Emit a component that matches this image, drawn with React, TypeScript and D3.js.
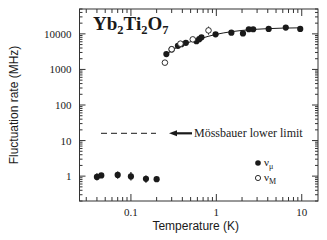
import React from "react";
import * as d3 from "d3";

// nu_mu, muon fluctuation rate (MHz), high-temperature branch
const muHighT = [0.26, 0.3, 0.355, 0.39, 0.44, 0.585, 0.63, 0.67, 0.98, 1.5, 2.05, 2.4, 2.7, 4.1, 6.5, 9.6];
const muHighRate = [2700, 3650, 4600, 5100, 5600, 6200, 7100, 8000, 9700, 10800, 10300, 13500, 13500, 13800, 15000, 13800];

// nu_mu, low-temperature branch with error bars
const muLowT = [0.04, 0.045, 0.07, 0.1, 0.15, 0.2];
const muLowRate = [0.95, 1.05, 1.08, 0.98, 0.84, 0.82];
const muLowErrLo = [0.75, 0.9, 0.85, 0.75, 0.65, 0.7];
const muLowErrHi = [1.2, 1.2, 1.35, 1.3, 1.05, 0.95];

// nu_M, Mossbauer rate
const mossT = [0.25, 0.3, 0.38, 0.53, 0.81];
const mossRate = [1550, 3700, 5300, 7000, 12500];
const mossErrLo = [1550, 3700, 5300, 7000, 9500];
const mossErrHi = [1550, 3700, 5300, 7000, 16000];

// guide curve through the data
const fitT = [0.25, 0.3, 0.4, 0.5, 0.6, 0.8, 1, 1.5, 2, 3, 4, 6, 10];
const fitRate = [2400, 3400, 4900, 6000, 6900, 8500, 9700, 11500, 12500, 13500, 14000, 14500, 14800];

const mossLimit = 16;
const xTickLabels = ["0.1", "1", "10"];
const yTickLabels = ["1", "10", "100", "1000", "10000"];

const W = 327, H = 240;
const L = 79.5, R = 318, T = 9, B = 201;

const serif = "'Liberation Serif', 'Times New Roman', serif";
const sans = "'Liberation Sans', Arial, sans-serif";

function minorTicks(lo: number, hi: number) {
  const out: { v: number; major: boolean }[] = [];
  for (let e = Math.floor(Math.log10(lo)); e <= Math.ceil(Math.log10(hi)); e++) {
    for (let k = 1; k < 10; k++) {
      const v = k * Math.pow(10, e);
      if (v >= lo && v <= hi) out.push({ v, major: k === 1 });
    }
  }
  return out;
}

export default function App() {
  const x = d3.scaleLog().domain([0.025, 15.5]).range([L, R]);
  const y = d3.scaleLog().domain([0.2, 50000]).range([B, T]);
  const line = d3.line<number>().x((_, i) => x(fitT[i])).y(d => y(d)).curve(d3.curveMonotoneX);

  const xt = minorTicks(0.025, 15.5);
  const yt = minorTicks(0.2, 50000);
  const ink = "#1a1a1a";

  return (
    <svg width={W} height={H} style={{ position: "absolute", left: 0, top: 0, background: "#fff" }}>
      <rect x={L} y={T} width={R - L} height={B - T} fill="none" stroke="#333" strokeWidth={1} />

      {/* inward ticks on all four sides */}
      {xt.map((t, i) => {
        const len = t.major ? 7 : 4;
        const px = x(t.v);
        return (
          <g key={"xt" + i} stroke="#333" strokeWidth={1}>
            <line x1={px} x2={px} y1={B} y2={B - len} />
            <line x1={px} x2={px} y1={T} y2={T + len} />
          </g>
        );
      })}
      {yt.map((t, i) => {
        const len = t.major ? 6 : 3;
        const py = y(t.v);
        return (
          <g key={"yt" + i} stroke="#333" strokeWidth={1}>
            <line x1={L} x2={L + len} y1={py} y2={py} />
            <line x1={R} x2={R - len} y1={py} y2={py} />
          </g>
        );
      })}

      {xTickLabels.map(s => (
        <text key={s} x={x(+s)} y={B + 15} textAnchor="middle" fontFamily={serif} fontSize={11} fill={ink}>{s}</text>
      ))}
      {yTickLabels.map(s => (
        <text key={s} x={L - 8} y={y(+s) + 4} textAnchor="end" fontFamily={serif} fontSize={11} fill={ink}>{s}</text>
      ))}

      <text x={(L + R) / 2 - 3} y={230} textAnchor="middle" fontFamily={sans} fontSize={12} fill={ink}>Temperature (K)</text>
      <text transform={`translate(18,${(T + B) / 2}) rotate(-90)`} textAnchor="middle" fontFamily={sans} fontSize={12} fill={ink}>Fluctuation rate (MHz)</text>

      {/* title */}
      <text x={93} y={30} fontFamily={serif} fontWeight="bold" fontSize={19} fill={ink}>
        Yb<tspan fontSize={12.5} dy={4}>2</tspan><tspan dy={-4}>Ti</tspan><tspan fontSize={12.5} dy={4}>2</tspan><tspan dy={-4}>O</tspan><tspan fontSize={12.5} dy={4}>7</tspan>
      </text>

      {/* Mossbauer lower limit */}
      <line x1={101} x2={156} y1={y(mossLimit)} y2={y(mossLimit)} stroke={ink} strokeWidth={1} strokeDasharray="6,4" />
      <line x1={175} x2={192} y1={y(mossLimit)} y2={y(mossLimit)} stroke={ink} strokeWidth={2.2} />
      <path d={`M169,${y(mossLimit)} L177,${y(mossLimit) - 3} L177,${y(mossLimit) + 3} Z`} fill={ink} />
      <text x={194} y={y(mossLimit) + 4} fontFamily={serif} fontSize={12} fill={ink}>Mössbauer lower limit</text>

      <path d={line(fitRate) || ""} fill="none" stroke={ink} strokeWidth={1} />

      {muLowT.map((t, i) => (
        <line key={"e" + i} x1={x(t)} x2={x(t)} y1={y(muLowErrLo[i])} y2={y(muLowErrHi[i])} stroke={ink} strokeWidth={1.2} />
      ))}
      {mossT.map((t, i) => (
        <line key={"me" + i} x1={x(t)} x2={x(t)} y1={y(mossErrLo[i])} y2={y(mossErrHi[i])} stroke={ink} strokeWidth={1} />
      ))}
      {muLowT.map((t, i) => (
        <circle key={"l" + i} cx={x(t)} cy={y(muLowRate[i])} r={3.1} fill={ink} />
      ))}
      {muHighT.map((t, i) => (
        <circle key={"h" + i} cx={x(t)} cy={y(muHighRate[i])} r={3.1} fill={ink} />
      ))}
      {mossT.map((t, i) => (
        <circle key={"m" + i} cx={x(t)} cy={y(mossRate[i])} r={2.8} fill="#fff" stroke={ink} strokeWidth={0.9} />
      ))}

      {/* legend */}
      <circle cx={258} cy={163} r={2.8} fill={ink} />
      <text x={264} y={166} fontFamily={serif} fontSize={11} fill={ink}>ν<tspan fontSize={8} dy={3}>μ</tspan></text>
      <circle cx={258} cy={178} r={2.6} fill="#fff" stroke={ink} strokeWidth={0.9} />
      <text x={264} y={181} fontFamily={serif} fontSize={11} fill={ink}>ν<tspan fontSize={8} dy={3}>M</tspan></text>
    </svg>
  );
}
